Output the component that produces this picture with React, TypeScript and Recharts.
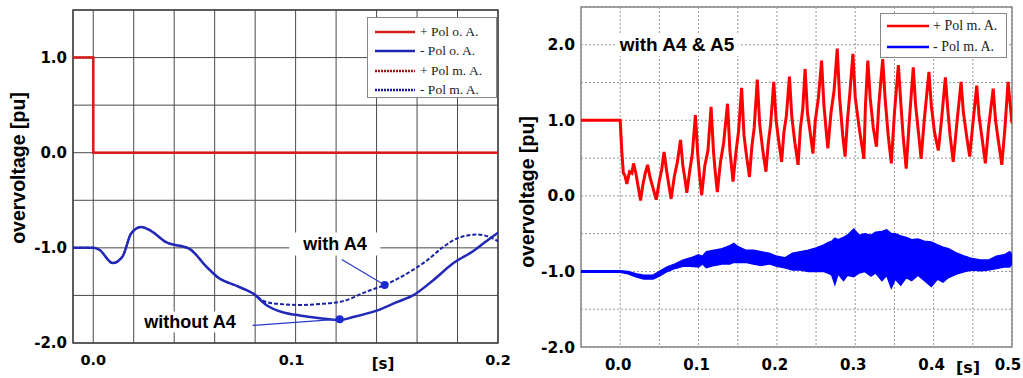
import React from 'react';
import {
  ComposedChart,
  Line,
  Area,
  XAxis,
  YAxis,
  CartesianGrid,
  ReferenceArea,
  ReferenceDot,
  ReferenceLine,
} from 'recharts';

// ---------------- Left panel data ----------------
const leftXTicks = [0, 0.02, 0.04, 0.06, 0.08, 0.1, 0.12, 0.14, 0.16, 0.18, 0.2];
const leftYTicks = [-2, -1.5, -1, -0.5, 0, 0.5, 1, 1.5];

const posOA_t = [-0.01, 0, 0, 0.2];
const posOA_v = [1, 1, 0, 0];
const posMA_t = [-0.01, 0, 0, 0.2];
const posMA_v = [1, 1, 0, 0];

const negOA_t = [-0.01, 0, 0.003, 0.0096, 0.0145, 0.0187, 0.0236, 0.0277, 0.036, 0.0476, 0.056, 0.061, 0.072, 0.079, 0.0855, 0.094, 0.102, 0.112, 0.122, 0.128, 0.14, 0.15, 0.158, 0.168, 0.178, 0.188, 0.193, 0.2];
const negOA_v = [-1, -1, -1.02, -1.16, -1.09, -0.85, -0.78, -0.81, -0.94, -1.01, -1.2, -1.3, -1.41, -1.48, -1.6, -1.68, -1.71, -1.74, -1.76, -1.73, -1.66, -1.57, -1.5, -1.34, -1.16, -1.03, -0.95, -0.84];

const negMA_t = [-0.01, 0, 0.003, 0.0096, 0.0145, 0.0187, 0.0236, 0.0277, 0.036, 0.0476, 0.056, 0.061, 0.072, 0.079, 0.0855, 0.092, 0.102, 0.112, 0.1235, 0.135, 0.144, 0.155, 0.165, 0.173, 0.181, 0.19, 0.195, 0.2];
const negMA_v = [-1, -1, -1.02, -1.16, -1.09, -0.85, -0.78, -0.81, -0.94, -1.01, -1.2, -1.3, -1.41, -1.48, -1.57, -1.59, -1.6, -1.59, -1.56, -1.46, -1.39, -1.27, -1.13, -0.99, -0.89, -0.86, -0.88, -0.93];

const leftSeriesNames = ['+ Pol o. A.', '- Pol o. A.', '+ Pol m. A.', '- Pol m. A.'];

// ---------------- Right panel data ----------------
const rightXTicks = [0, 0.05, 0.1, 0.15, 0.2, 0.25, 0.3, 0.35, 0.4, 0.45, 0.5];
const rightYTicks = [-2, -1.5, -1, -0.5, 0, 0.5, 1, 1.5, 2, 2.5];

const redT = [-0.05, 0.0, 0.002, 0.004, 0.006, 0.0085, 0.012, 0.015, 0.017, 0.02, 0.023, 0.026, 0.029, 0.032, 0.035, 0.038, 0.042, 0.046, 0.05, 0.053, 0.056, 0.059, 0.062, 0.065, 0.069, 0.073, 0.077, 0.08, 0.083, 0.085, 0.089, 0.092, 0.096, 0.099, 0.101, 0.104, 0.108, 0.112, 0.116, 0.119, 0.121, 0.124, 0.128, 0.132, 0.137, 0.14, 0.142, 0.144, 0.148, 0.151, 0.155, 0.158, 0.161, 0.165, 0.168, 0.171, 0.175, 0.178, 0.182, 0.186, 0.189, 0.192, 0.196, 0.199, 0.202, 0.206, 0.209, 0.212, 0.216, 0.219, 0.223, 0.227, 0.23, 0.233, 0.236, 0.239, 0.243, 0.246, 0.249, 0.253, 0.257, 0.26, 0.263, 0.265, 0.269, 0.273, 0.277, 0.28, 0.284, 0.287, 0.29, 0.293, 0.297, 0.3, 0.305, 0.311, 0.313, 0.316, 0.319, 0.323, 0.327, 0.33, 0.335, 0.338, 0.342, 0.346, 0.35, 0.355, 0.358, 0.361, 0.365, 0.369, 0.374, 0.377, 0.381, 0.384, 0.388, 0.394, 0.397, 0.401, 0.406, 0.41, 0.415, 0.418, 0.421, 0.425, 0.43, 0.435, 0.438, 0.442, 0.446, 0.45, 0.455, 0.458, 0.462, 0.466, 0.47, 0.476, 0.479, 0.483, 0.487, 0.491, 0.495, 0.5];
const redV = [1.0, 1.0, 0.6, 0.3, 0.27, 0.16, 0.32, 0.3, 0.43, 0.3, 0.12, -0.06, 0.15, 0.3, 0.41, 0.25, 0.1, -0.05, 0.2, 0.35, 0.58, 0.35, 0.15, -0.04, 0.25, 0.45, 0.74, 0.4, 0.2, 0.04, 0.35, 0.55, 1.07, 0.55, 0.3, 0.01, 0.4, 0.6, 1.18, 0.6, 0.35, 0.05, 0.45, 0.7, 1.22, 0.6, 0.4, 0.19, 0.6, 0.85, 1.43, 0.8, 0.55, 0.25, 0.65, 0.9, 1.54, 0.95, 0.6, 0.32, 0.7, 0.95, 1.51, 1.0, 0.75, 0.45, 0.85, 1.05, 1.58, 1.05, 0.7, 0.41, 0.9, 1.15, 1.68, 1.1, 0.8, 0.56, 1.0, 1.3, 1.79, 1.2, 0.85, 0.63, 1.1, 1.4, 1.95, 1.3, 0.8, 0.52, 1.0, 1.35, 1.88, 1.3, 0.9, 0.49, 1.2, 1.79, 1.3, 0.9, 0.65, 1.2, 1.81, 1.3, 0.8, 0.43, 1.1, 1.73, 1.25, 0.8, 0.36, 1.0, 1.7, 1.2, 0.8, 0.49, 1.0, 1.64, 1.2, 0.85, 0.6, 1.0, 1.57, 1.15, 0.8, 0.45, 1.0, 1.51, 1.1, 0.8, 0.52, 0.95, 1.46, 1.05, 0.75, 0.43, 0.9, 1.42, 1.0, 0.7, 0.41, 0.9, 1.51, 0.96];

const blueT = [-0.05, 0, 0.01, 0.02, 0.03, 0.042, 0.05, 0.06, 0.07, 0.08, 0.09, 0.1, 0.105, 0.11, 0.12, 0.13, 0.14, 0.145, 0.15, 0.16, 0.17, 0.18, 0.19, 0.2, 0.21, 0.22, 0.23, 0.24, 0.25, 0.26, 0.265, 0.27, 0.274, 0.278, 0.285, 0.29, 0.298, 0.305, 0.312, 0.32, 0.326, 0.334, 0.34, 0.346, 0.351, 0.358, 0.365, 0.372, 0.38, 0.388, 0.397, 0.405, 0.412, 0.419, 0.43, 0.44, 0.449, 0.46, 0.47, 0.48, 0.49, 0.497, 0.5];
const blueLo = [-1.01, -1.01, -1.03, -1.07, -1.1, -1.1, -1.06, -1.0, -0.96, -0.93, -0.93, -0.94, -0.9, -0.95, -0.92, -0.9, -0.9, -0.88, -0.88, -0.88, -0.9, -0.92, -0.9, -0.93, -0.95, -0.98, -0.98, -1.0, -1.0, -1.0, -1.02, -1.05, -1.17, -1.03, -1.12, -1.05, -1.07, -1.02, -1.0, -1.06, -1.02, -1.12, -1.05, -1.22, -1.1, -1.18, -1.08, -1.12, -1.05, -1.12, -1.2, -1.1, -1.14, -1.08, -1.03, -1.0, -0.98, -0.99, -0.98, -0.96, -0.94, -0.94, -0.9];
const blueHi = [-0.99, -0.99, -1.0, -1.03, -1.05, -1.05, -1.0, -0.94, -0.9, -0.85, -0.82, -0.78, -0.8, -0.74, -0.72, -0.7, -0.66, -0.63, -0.67, -0.72, -0.72, -0.74, -0.76, -0.8, -0.82, -0.76, -0.74, -0.72, -0.69, -0.65, -0.62, -0.6, -0.56, -0.58, -0.55, -0.52, -0.44, -0.52, -0.5, -0.52, -0.48, -0.47, -0.45, -0.5, -0.5, -0.53, -0.55, -0.58, -0.57, -0.6, -0.61, -0.65, -0.68, -0.7, -0.76, -0.8, -0.83, -0.85, -0.85, -0.8, -0.78, -0.74, -0.78];

const rightSeriesNames = ['+ Pol m. A.', '- Pol m. A.'];

// ---------------- helpers ----------------
const zip = (t: number[], v: number[]) => t.map((x, i) => ({ t: x, v: v[i] }));
const bandData = blueT.map((x, i) => ({ t: x, band: [blueLo[i], blueHi[i]] }));
const isMajor = (v: number, step: number) => Math.abs(v / step - Math.round(v / step)) < 1e-6;
const fmt = (v: number) => (Math.abs(v) < 1e-9 ? '0.0' : v.toFixed(1));

const tickFont = { fontFamily: 'DejaVu Sans', fontWeight: 'bold' as const, fill: '#000' };

const LeftXTick = (props: any) => {
  const { x, y, payload } = props;
  const v = payload.value as number;
  if (!isMajor(v, 0.1)) return null;
  const shift = Math.abs(v - 0.1) < 1e-9 ? -4 : 0;
  return (
    <text x={x + shift} y={y} dy="0.71em" textAnchor="middle" fontSize={14.5} {...tickFont}>
      {fmt(v)}
    </text>
  );
};

const RightXTick = (props: any) => {
  const { x, y, payload } = props;
  const v = payload.value as number;
  if (!isMajor(v, 0.1)) return null;
  const shift = v >= 0.5 - 1e-9 ? -4 : -2;
  return (
    <text x={x + shift} y={y} dy="0.71em" textAnchor="middle" fontSize={15} {...tickFont}>
      {fmt(v)}
    </text>
  );
};

const LeftLegend = () => {
  const items = [
    { name: leftSeriesNames[0], color: '#d81c1c', dash: undefined },
    { name: leftSeriesNames[1], color: '#1e24b4', dash: undefined },
    { name: leftSeriesNames[2], color: '#9a1818', dash: '2 1' },
    { name: leftSeriesNames[3], color: '#161a96', dash: '2 1' },
  ];
  return (
    <div style={{ background: '#fff', border: '1.5px solid #888', width: 130, height: 81, padding: '4px 0 0 0', boxSizing: 'border-box' }}>
      {items.map((it) => (
        <div key={it.name} style={{ display: 'flex', alignItems: 'center', height: 19.5 }}>
          <svg width={45} height={6} style={{ marginLeft: 7 }}>
            <line x1={0} y1={3} x2={40} y2={3} stroke={it.color} strokeWidth={2.5} strokeDasharray={it.dash} />
          </svg>
          <span style={{ fontFamily: 'Liberation Serif', fontSize: 13.5, color: '#222', whiteSpace: 'nowrap' }}>{it.name}</span>
        </div>
      ))}
    </div>
  );
};

const RightLegend = () => {
  const items = [
    { name: rightSeriesNames[0], color: '#ff0000' },
    { name: rightSeriesNames[1], color: '#0000ff' },
  ];
  return (
    <div style={{ background: '#fff', border: '1.5px solid #888', width: 127, height: 45, padding: '2px 0', boxSizing: 'border-box' }}>
      {items.map((it) => (
        <div key={it.name} style={{ display: 'flex', alignItems: 'center', height: 20.5 }}>
          <svg width={46} height={6} style={{ marginLeft: 6 }}>
            <line x1={0} y1={3} x2={42} y2={3} stroke={it.color} strokeWidth={2.5} />
          </svg>
          <span style={{ fontFamily: 'Liberation Serif', fontSize: 14, color: '#222', whiteSpace: 'nowrap' }}>{it.name}</span>
        </div>
      ))}
    </div>
  );
};

const abs = (left: number, top: number, extra: React.CSSProperties = {}): React.CSSProperties => ({
  position: 'absolute',
  left,
  top,
  ...extra,
});

export default function App() {
  return (
    <div style={{ position: 'absolute', left: 0, top: 0, width: 1023, height: 378, background: '#fff', overflow: 'hidden' }}>
      {/* Left chart */}
      <div style={abs(0, 0)}>
        <ComposedChart width={520} height={378} margin={{ top: 10, right: 22, bottom: 0, left: 0 }}>
          <CartesianGrid stroke="#4a4a4a" strokeWidth={1} />
          <XAxis
            type="number"
            dataKey="t"
            domain={[-0.01, 0.2]}
            ticks={leftXTicks}
            allowDataOverflow
            height={35}
            tick={<LeftXTick />}
            tickLine={false}
            axisLine={false}
            tickSize={6}
            tickMargin={6}
          />
          <YAxis
            type="number"
            domain={[-2, 1.5]}
            ticks={leftYTicks}
            allowDataOverflow
            width={73}
            tickFormatter={(v: number) => (isMajor(v, 1) ? fmt(v) : '')}
            tick={{ ...tickFont, fontSize: 15 }}
            tickLine={false}
            axisLine={false}
            tickSize={4}
            tickMargin={2}
          />
          <ReferenceArea x1={-0.01} x2={0.2} y1={-2} y2={1.5} fill="none" stroke="#444" strokeWidth={1.5} ifOverflow="visible" />
          <Line data={zip(posMA_t, posMA_v)} dataKey="v" name={leftSeriesNames[2]} stroke="#9a1818" strokeWidth={2} strokeDasharray="2 1" dot={false} isAnimationActive={false} />
          <Line data={zip(posOA_t, posOA_v)} dataKey="v" name={leftSeriesNames[0]} stroke="#d81c1c" strokeWidth={2.5} dot={false} isAnimationActive={false} />
          <Line type="monotone" data={zip(negMA_t, negMA_v)} dataKey="v" name={leftSeriesNames[3]} stroke="#1a22a8" strokeWidth={2} strokeDasharray="4 2" dot={false} isAnimationActive={false} />
          <Line type="monotone" data={zip(negOA_t, negOA_v)} dataKey="v" name={leftSeriesNames[1]} stroke="#2228b8" strokeWidth={2.5} dot={false} isAnimationActive={false} />
          <ReferenceLine segment={[{ x: 0.1228, y: -1.123 }, { x: 0.144, y: -1.39 }]} stroke="#2a3ac8" strokeWidth={1.2} ifOverflow="visible" />
          <ReferenceLine segment={[{ x: 0.0787, y: -1.815 }, { x: 0.1218, y: -1.75 }]} stroke="#2a3ac8" strokeWidth={1.2} ifOverflow="visible" />
          <ReferenceDot x={0.144} y={-1.39} r={4} fill="#1a2ad0" stroke="none" />
          <ReferenceDot x={0.1218} y={-1.75} r={4} fill="#1a2ad0" stroke="none" />
        </ComposedChart>
      </div>

      {/* Right chart */}
      <div style={abs(520, 0)}>
        <ComposedChart width={503} height={378} data={bandData} margin={{ top: 7, right: 11, bottom: 0, left: 0 }}>
          <CartesianGrid stroke="#999" strokeDasharray="2 2" strokeWidth={1} />
          <XAxis
            type="number"
            dataKey="t"
            domain={[-0.05, 0.5]}
            ticks={rightXTicks}
            allowDataOverflow
            height={31}
            tick={<RightXTick />}
            tickLine={false}
            axisLine={false}
            tickSize={6}
            tickMargin={6}
          />
          <YAxis
            type="number"
            domain={[-2, 2.5]}
            ticks={rightYTicks}
            allowDataOverflow
            width={61}
            tickFormatter={(v: number) => (isMajor(v, 1) ? fmt(v) : '')}
            tick={{ ...tickFont, fontSize: 15.5 }}
            tickLine={false}
            axisLine={false}
            tickSize={4}
            tickMargin={2}
          />
          <ReferenceArea x1={-0.05} x2={0.5} y1={-2} y2={2.5} fill="none" stroke="#888" strokeWidth={1.5} ifOverflow="visible" />
          <Area dataKey="band" name={rightSeriesNames[1]} stroke="#0000ff" strokeWidth={1.5} fill="#0000ff" fillOpacity={1} isAnimationActive={false} />
          <Line data={zip(redT, redV)} dataKey="v" name={rightSeriesNames[0]} stroke="#ff0000" strokeWidth={3} dot={false} isAnimationActive={false} />
        </ComposedChart>
      </div>

      {/* Legends */}
      <div style={abs(367, 17)}><LeftLegend /></div>
      <div style={abs(880, 13)}><RightLegend /></div>

      {/* Axis titles & annotations */}
      <div style={abs(18, 168, { transform: 'translate(-50%, -50%) rotate(-90deg)', fontFamily: 'Liberation Sans', fontWeight: 'bold', fontSize: 19.5, whiteSpace: 'nowrap' })}>
        overvoltage [pu]
      </div>
      <div style={abs(527, 192, { transform: 'translate(-50%, -50%) rotate(-90deg)', fontFamily: 'Liberation Sans', fontWeight: 'bold', fontSize: 19.5, whiteSpace: 'nowrap' })}>
        overvoltage [pu]
      </div>
      <div style={abs(383, 364, { transform: 'translate(-50%, -50%)', fontFamily: 'DejaVu Sans', fontWeight: 'bold', fontSize: 15, whiteSpace: 'nowrap' })}>[s]</div>
      <div style={abs(968, 367, { transform: 'translate(-50%, -50%)', fontFamily: 'DejaVu Sans', fontWeight: 'bold', fontSize: 16, whiteSpace: 'nowrap' })}>[s]</div>
      <div style={abs(335, 244, { transform: 'translate(-50%, -50%)', fontFamily: 'Liberation Sans', fontWeight: 'bold', fontSize: 18, whiteSpace: 'nowrap', background: '#fff', padding: '1px 14px' })}>with A4</div>
      <div style={abs(190, 322, { transform: 'translate(-50%, -50%)', fontFamily: 'Liberation Sans', fontWeight: 'bold', fontSize: 18, whiteSpace: 'nowrap', background: '#fff', padding: '0 2px' })}>without A4</div>
      <div style={abs(677, 45, { transform: 'translate(-50%, -50%)', fontFamily: 'Liberation Sans', fontWeight: 'bold', fontSize: 19, whiteSpace: 'nowrap', background: '#fff', padding: '0 4px' })}>with A4 &amp; A5</div>
    </div>
  );
}
